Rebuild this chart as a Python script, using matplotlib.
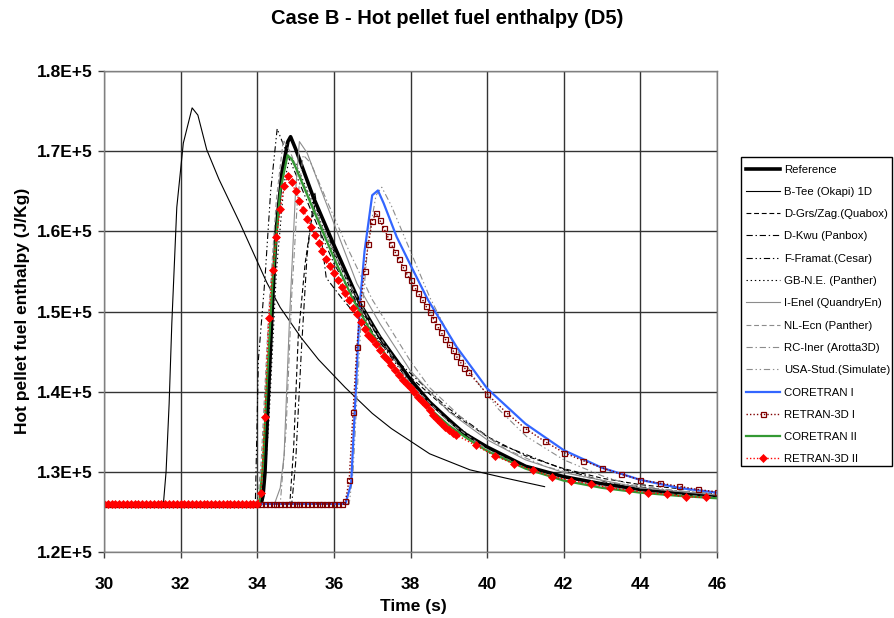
import numpy as np
import matplotlib
matplotlib.use("Agg")
import matplotlib.pyplot as plt
from matplotlib.patches import Rectangle
from matplotlib.ticker import FuncFormatter

plt.rcParams['font.family'] = ['Liberation Sans', 'DejaVu Sans']
plt.rcParams['lines.scale_dashes'] = False

# ---------------- data ----------------
ref_t = [30, 34.1, 34.15, 34.2, 34.3, 34.4, 34.5, 34.65, 34.8, 34.87, 35.0, 35.46, 36.0, 36.68, 37.2,
         38.0, 38.5, 39.0, 39.4, 40.0, 41.0, 42.0, 43.0, 44.0, 45.0, 46.0]
ref_h = [126000, 126000, 127000, 129800, 140500, 151300, 160500, 167500, 171200, 171800, 170300, 164300,
         158300, 151000, 146800, 141500, 138700, 136500, 134800, 133100, 130700, 129400, 128500, 127800,
         127300, 126900]

btee_t = [30, 31.55, 31.62, 31.7, 31.77, 31.9, 32.07, 32.3, 32.45, 32.68, 33.0, 33.55, 34.25, 34.6, 35.15,
          35.6, 36.3, 37.0, 37.5, 38.5, 39.55, 40.5, 41.5]
btee_h = [126000, 126000, 130000, 138500, 148500, 163000, 171000, 175400, 174500, 170200, 166500, 161000,
          153600, 150500, 146700, 144000, 140500, 137300, 135400, 132250, 130250, 129200, 128150]

dgrs_t = [30, 34.85, 34.95, 35.07, 35.25, 35.4, 35.52, 35.7, 36.0, 36.6, 37.2, 38.0, 39.0, 40.0, 41.0, 42.0,
          43.0, 44.0, 46.0]
dgrs_h = [126000, 126000, 133000, 146900, 156000, 161000, 163500, 161500, 157500, 151000, 146500, 141800,
          137600, 134400, 132000, 130400, 129200, 128400, 127400]

dkwu_t = [30, 34.9, 35.0, 35.15, 35.3, 35.5, 35.65, 35.8, 36.2, 36.64, 37.5, 38.94, 40.25, 42.0, 43.2, 44.5, 46.0]
dkwu_h = [126000, 126000, 131000, 145000, 157000, 164900, 160000, 154200, 151700, 149200, 144500, 138100,
          133600, 130300, 128600, 127800, 127200]

ffra_t = [30, 33.95, 34.03, 34.2, 34.35, 34.52, 34.7, 35.0, 35.5, 36.0, 37.0, 38.0, 39.0, 40.0, 41.0, 42.0,
          44.0, 46.0]
ffra_h = [126000, 126000, 144000, 154000, 165000, 172800, 170600, 167200, 161500, 156000, 147500, 141000,
          136300, 133000, 130800, 129300, 127700, 126900]

gbne_t = [30, 34.15, 34.3, 34.5, 34.7, 34.85, 35.0, 35.5, 36.0, 37.0, 38.0, 39.0, 40.0, 41.0, 42.0, 44.0, 46.0]
gbne_h = [126000, 126000, 136000, 155000, 166000, 169300, 168500, 163000, 157200, 148300, 141300, 136400,
          133000, 130800, 129300, 127800, 127000]

ienel_t = [30, 34.45, 34.6, 34.7, 34.85, 35.0, 35.1, 35.3, 35.6, 36.0, 36.6, 37.2, 38.0, 39.0, 40.0, 41.0,
           42.0, 44.0, 46.0]
ienel_h = [126000, 126000, 128000, 132000, 150000, 165000, 171200, 169800, 166000, 161000, 153500, 148500,
           142600, 137500, 134000, 131500, 129900, 128000, 127100]

nlecn_t = [30, 34.0, 34.1, 34.3, 34.5, 34.68, 34.85, 35.2, 35.7, 36.3, 37.0, 38.0, 39.0, 40.0, 41.0, 42.0,
           44.0, 46.0]
nlecn_h = [126000, 126000, 131000, 150000, 164000, 171400, 170000, 166000, 160500, 154500, 148300, 141000,
           136200, 132800, 130500, 129000, 127500, 126800]

rciner_t = [30, 34.6, 34.75, 34.9, 35.05, 35.2, 35.4, 35.8, 36.4, 37.0, 38.0, 38.5, 39.5, 40.5, 41.5, 42.5,
            44.0, 46.0]
rciner_h = [126000, 126000, 135000, 152000, 164000, 169500, 168500, 164000, 157500, 151500, 143800, 140500,
            136000, 132800, 130700, 129400, 128000, 127200]

usa_t = [30, 36.4, 36.5, 36.7, 36.9, 37.1, 37.25, 37.5, 38.0, 38.5, 38.85, 39.3, 39.73, 40.3, 41.03, 42.0,
         43.0, 43.73, 45.0, 46.0]
usa_h = [126000, 126000, 130000, 148000, 159000, 164500, 165500, 163200, 157500, 151800, 148500, 144500,
         141300, 137800, 134400, 131500, 129500, 128400, 127600, 127300]

cor1_t = [30, 36.3, 36.45, 36.55, 36.68, 36.8, 37.0, 37.15, 37.3, 37.64, 38.0, 38.45, 39.2, 40.0, 41.0,
          42.0, 43.0, 44.0, 45.0, 46.0]
cor1_h = [126000, 126000, 128500, 138000, 151000, 157500, 164500, 165100, 163500, 159300, 155800, 151500,
          145600, 140400, 136000, 132700, 130500, 129000, 128000, 127400]

ret1_t = [round(30.0 + 0.1 * i, 1) for i in range(96)] + [40.0, 40.5, 41.0, 41.5, 42.0, 42.5, 43.0, 43.5,
                                                          44.0, 44.5, 45.0, 45.5, 46.0]
ret1_h = ([126000] * 63 +
          [126300, 129000, 137500, 145600, 151000, 155100, 158400, 161300, 162300, 161400,
           160400, 159400, 158400, 157400, 156500, 155600, 154700, 153900, 153100, 152300,
           151600, 150700, 149900, 149100, 148200, 147400, 146600, 145900, 145200, 144400,
           143700, 143000, 142500] +
          [139700, 137400, 135400, 133800, 132400, 131400, 130500, 129700, 129000, 128600,
           128200, 127800, 127500])

cor2_t = [30, 34.05, 34.15, 34.25, 34.4, 34.6, 34.79, 34.9, 35.0, 35.5, 36.0, 36.5, 37.0, 37.5, 38.0, 38.5,
          39.0, 39.5, 40.0, 41.0, 42.0, 43.0, 44.0, 45.0, 46.0]
cor2_h = [126000, 126000, 131000, 141000, 154000, 165000, 169500, 169000, 168000, 162300, 156700, 151500,
          147200, 143500, 140400, 137900, 135800, 134100, 132600, 130400, 128900, 128000, 127400, 127000,
          126700]

ret2_t = [round(30.0 + 0.1 * i, 1) for i in range(93)] + [39.7, 40.2, 40.7, 41.2, 41.7, 42.2, 42.7, 43.2,
                                                          43.7, 44.2, 44.7, 45.2, 45.7]
ret2_h = ([126000] * 41 +
          [127300, 136900, 149200, 155200, 159300, 162800, 165600, 166900, 166100, 165000,
           163800, 162700, 161600, 160600, 159500, 158500, 157500, 156600, 155700, 154800,
           153900, 153100, 152300, 151400, 150400, 149700, 148700, 147800, 147100, 146600,
           145900, 145200, 144500, 143900, 143300, 142700, 142100, 141500, 141000, 140400,
           139900, 139300, 138800, 138300, 137750, 137150, 136550, 136100, 135600, 135250,
           134900, 134600] +
          [133300, 132000, 131000, 130200, 129400, 128900, 128500, 128000, 127700, 127400,
           127200, 126900, 126800])

x_ticks = [30, 32, 34, 36, 38, 40, 42, 44, 46]
y_ticks = [120000, 130000, 140000, 150000, 160000, 170000, 180000]

# ---------------- figure ----------------
W, H = 894, 618
fig = plt.figure(figsize=(W / 100, H / 100), dpi=100)
ax = fig.add_axes([104 / W, 1 - 552 / H, (717 - 104) / W, (552 - 71) / H])

BLK = 'black'
GRY = '#8c8c8c'
lw_thin = 0.8

series = [
    (ref_t, ref_h, dict(color=BLK, lw=2.6, ls='-'), 'Reference'),
    (btee_t, btee_h, dict(color=BLK, lw=lw_thin, ls='-'), 'B-Tee (Okapi) 1D'),
    (dgrs_t, dgrs_h, dict(color=BLK, lw=lw_thin, ls=(0, (3.5, 2))), 'D-Grs/Zag.(Quabox)'),
    (dkwu_t, dkwu_h, dict(color=BLK, lw=lw_thin, ls=(0, (4.5, 2, 1, 2))), 'D-Kwu (Panbox)'),
    (ffra_t, ffra_h, dict(color=BLK, lw=lw_thin, ls=(0, (4.5, 2, 1, 2, 1, 2))), 'F-Framat.(Cesar)'),
    (gbne_t, gbne_h, dict(color=BLK, lw=lw_thin, ls=(0, (1, 2))), 'GB-N.E. (Panther)'),
    (ienel_t, ienel_h, dict(color=GRY, lw=lw_thin, ls='-'), 'I-Enel (QuandryEn)'),
    (nlecn_t, nlecn_h, dict(color=GRY, lw=lw_thin, ls=(0, (3.5, 2))), 'NL-Ecn (Panther)'),
    (rciner_t, rciner_h, dict(color=GRY, lw=lw_thin, ls=(0, (4.5, 2, 1, 2))), 'RC-Iner (Arotta3D)'),
    (usa_t, usa_h, dict(color=GRY, lw=lw_thin, ls=(0, (4.5, 2, 1, 2, 1, 2))), 'USA-Stud.(Simulate)'),
    (cor1_t, cor1_h, dict(color='#3366ff', lw=1.6, ls='-'), 'CORETRAN I'),
    (ret1_t, ret1_h, dict(color='#800000', lw=1.0, ls=(0, (1, 1.5)), marker='s', ms=3.6,
                          mfc='none', mec='#800000', mew=0.9), 'RETRAN-3D I'),
    (cor2_t, cor2_h, dict(color='#339933', lw=1.6, ls='-'), 'CORETRAN II'),
    (ret2_t, ret2_h, dict(color='#ff0000', lw=1.0, ls=(0, (1, 1.5)), marker='D', ms=4.0,
                          mfc='#ff0000', mec='#ff0000', mew=0.5), 'RETRAN-3D II'),
]

handles = []
for t, h, st, lab in series:
    ln, = ax.plot(t, h, label=lab, **st)
    handles.append(ln)

ax.set_xlim(30, 46)
ax.set_ylim(120000, 180000)
ax.set_xticks(x_ticks)
ax.set_yticks(y_ticks)
ax.yaxis.set_major_formatter(FuncFormatter(lambda v, p: f"{v / 1e5:.1f}E+5"))
ax.grid(True, color='#333333', lw=1.0)
ax.set_axisbelow(True)
for s in ax.spines.values():
    s.set_color('#808080')
    s.set_linewidth(1.0)
ax.tick_params(axis='y', direction='out', length=4, width=1, color='#404040', pad=4, labelsize=12.5)
ax.tick_params(axis='x', direction='out', length=4, width=1, color='#404040', pad=14, labelsize=12.5)
for lbl in ax.get_xticklabels() + ax.get_yticklabels():
    lbl.set_fontweight('bold')

fig.text(0.5, 1 - 18 / H, 'Case B - Hot pellet fuel enthalpy (D5)', ha='center', va='center',
         fontsize=14.5, fontweight='bold')
fig.text(413 / W, 1 - 606 / H, 'Time (s)', ha='center', va='center', fontsize=12.5, fontweight='bold')
fig.text(23 / W, 1 - 311 / H, 'Hot pellet fuel enthalpy (J/Kg)', ha='center', va='center',
         rotation=90, fontsize=12.5, fontweight='bold')

leg = fig.legend(handles=handles, loc='upper left', bbox_to_anchor=(741 / W, 1 - 160 / H),
                 bbox_transform=fig.transFigure, fontsize=8.2, frameon=False,
                 borderpad=0.4, labelspacing=1.08,
                 handlelength=3.0, handletextpad=0.4, borderaxespad=0, numpoints=1)
fig.patches.append(Rectangle((741 / W, 1 - 466 / H), (892 - 741) / W, (466 - 157) / H,
                             transform=fig.transFigure, fill=False, edgecolor='black', lw=1.0))

fig.savefig('out.png', dpi=100)
